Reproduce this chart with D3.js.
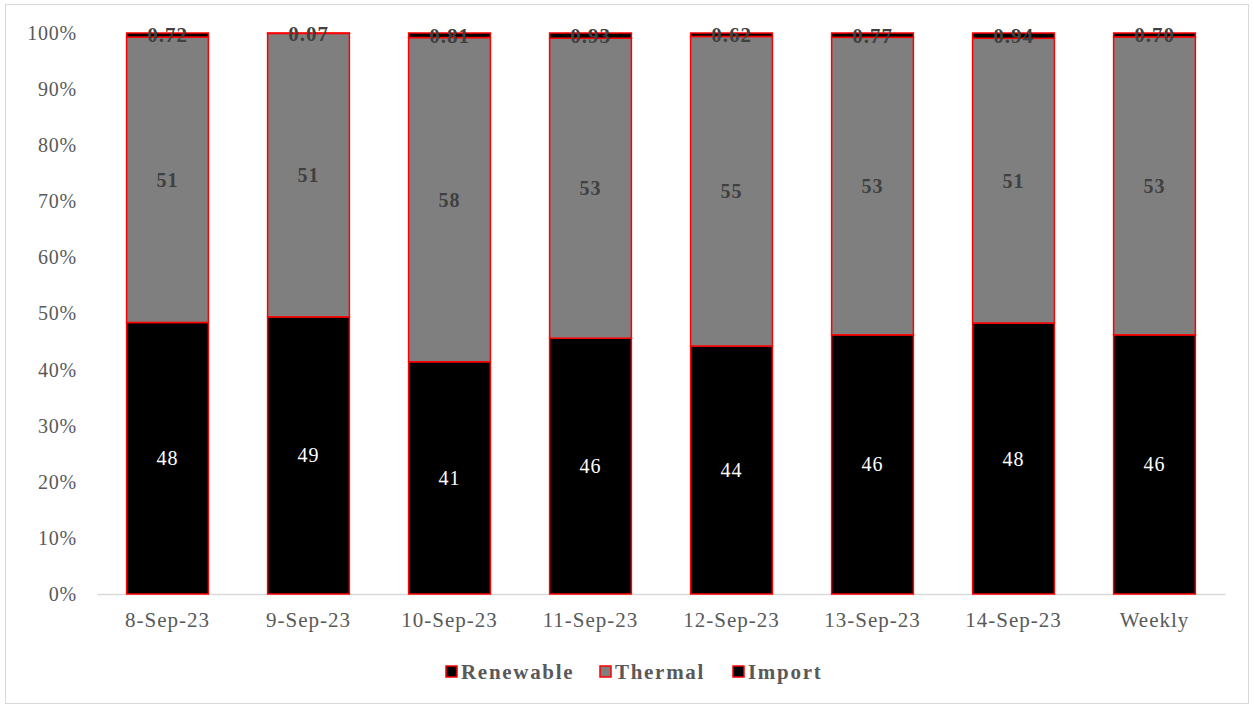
<!DOCTYPE html>
<html>
<head>
<meta charset="utf-8">
<script src="https://cdn.jsdelivr.net/npm/d3@7"></script>
<style>
  html, body { margin: 0; padding: 0; background: #fff; }
  svg { display: block; }
  text { font-family: "Liberation Serif", "DejaVu Serif", serif; }
</style>
</head>
<body>
<svg id="chart" width="1254" height="708"></svg>
<script>
const categories = ["8-Sep-23", "9-Sep-23", "10-Sep-23", "11-Sep-23", "12-Sep-23", "13-Sep-23", "14-Sep-23", "Weekly"];
const renewable = [48.4, 49.4, 41.4, 45.6, 44.2, 46.2, 48.3, 46.2];
const thermal   = [50.88, 50.53, 57.79, 53.47, 55.18, 53.03, 50.76, 53.10];
const importV   = [0.72, 0.07, 0.81, 0.93, 0.62, 0.77, 0.94, 0.70];
const yTicks = [0, 0.1, 0.2, 0.3, 0.4, 0.5, 0.6, 0.7, 0.8, 0.9, 1.0];
const seriesNames = ["Renewable", "Thermal", "Import"];
const seriesColors = ["#000000", "#7f7f7f", "#000000"];

const svg = d3.select("#chart");
const W = 1254, H = 708;
const m = { left: 97, right: 29, top: 33, bottom: 114 };

// outer border
svg.append("rect").attr("x", 5.5).attr("y", 4.5).attr("width", W - 11).attr("height", H - 9)
  .attr("fill", "#fff").attr("stroke", "#d9d9d9").attr("stroke-width", 1);

const x = d3.scaleBand().domain(categories).range([m.left, W - m.right]).paddingInner(0.42).paddingOuter(0.21);
const y = d3.scaleLinear().domain([0, 1]).range([H - m.bottom, m.top]);

const data = categories.map((c, i) => {
  const tot = renewable[i] + thermal[i] + importV[i];
  return { cat: c, Renewable: renewable[i] / tot, Thermal: thermal[i] / tot, Import: importV[i] / tot,
           raw: [renewable[i], thermal[i], importV[i]] };
});
const stack = d3.stack().keys(seriesNames)(data);

// y axis labels
const yAxis = d3.axisLeft(y).tickValues(yTicks).tickFormat(d3.format(".0%")).tickSize(0).tickPadding(20);
const gy = svg.append("g").attr("transform", `translate(${m.left},0)`).call(yAxis);
gy.select(".domain").remove();
gy.selectAll("text").attr("font-size", 20).attr("fill", "#595959")
  .style("font-family", '"Liberation Serif", serif').style("letter-spacing", "0.8px");

// x axis
const xAxis = d3.axisBottom(x).tickSize(0).tickPadding(18);
const gx = svg.append("g").attr("transform", `translate(0,${H - m.bottom})`).call(xAxis);
gx.select(".domain").attr("stroke", "#d9d9d9").attr("stroke-width", 1.5);
gx.selectAll("text").attr("font-size", 21).attr("fill", "#595959")
  .style("font-family", '"Liberation Serif", serif').style("letter-spacing", "1px");

// bars
stack.forEach((s, si) => {
  svg.append("g").selectAll("rect").data(s).join("rect")
    .attr("x", d => x(d.data.cat))
    .attr("width", x.bandwidth())
    .attr("y", d => y(d[1]))
    .attr("height", d => y(d[0]) - y(d[1]))
    .attr("fill", seriesColors[si])
    .attr("stroke", "#ff0000")
    .attr("stroke-width", 1.5);
});

// labels
stack.forEach((s, si) => {
  svg.append("g").selectAll("text").data(s).join("text")
    .attr("x", d => x(d.data.cat) + x.bandwidth() / 2)
    .attr("y", d => (y(d[0]) + y(d[1])) / 2)
    .attr("dy", "0.35em")
    .attr("text-anchor", "middle")
    .attr("font-size", si === 2 ? 21 : 20)
    .attr("font-weight", si === 0 ? "normal" : "bold")
    .attr("fill", si === 0 ? "#ffffff" : "#404040")
    .style("letter-spacing", "1px")
    .text(d => si === 2 ? d3.format(".2f")(d.data.raw[2]) : d3.format(".0f")(d.data.raw[si]));
});

// legend
const legendItems = [
  { name: "Renewable", color: "#000000", x: 446 },
  { name: "Thermal", color: "#7f7f7f", x: 600 },
  { name: "Import", color: "#000000", x: 733 }
];
const lg = svg.append("g");
legendItems.forEach(it => {
  lg.append("rect").attr("x", it.x).attr("y", 666).attr("width", 11).attr("height", 11)
    .attr("fill", it.color).attr("stroke", "#ff0000").attr("stroke-width", 1.5);
  lg.append("text").attr("x", it.x + 15).attr("y", 672).attr("dy", "0.35em")
    .attr("font-size", 21).attr("font-weight", "bold").attr("fill", "#595959")
    .style("letter-spacing", "1.7px").text(it.name);
});
</script>
</body>
</html>
